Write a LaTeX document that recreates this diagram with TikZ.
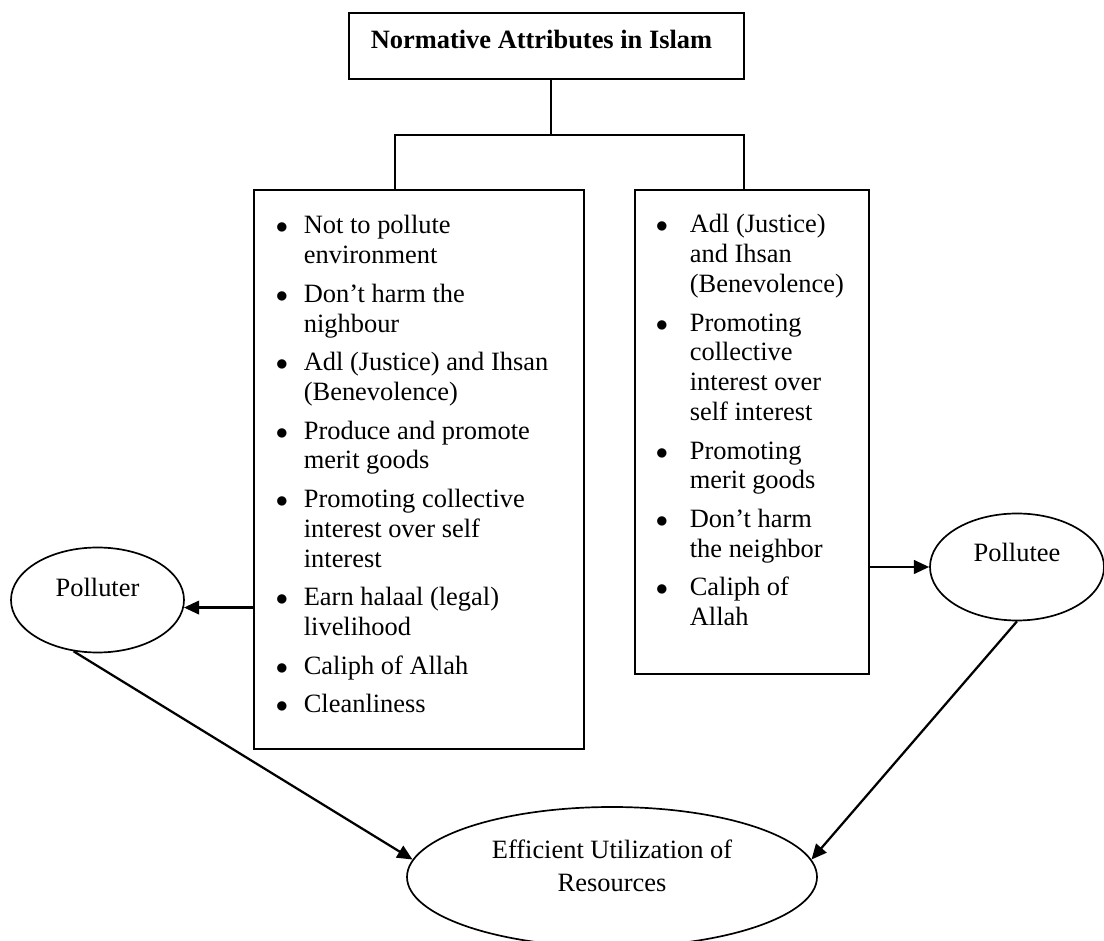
\documentclass[tikz,border=0pt]{standalone}
\usepackage{fontspec}
\setmainfont{Liberation Serif}
\usetikzlibrary{arrows.meta,shapes.geometric}
\newlength{\bltin}
\newlength{\txtin}
\newcommand{\bitem}[1]{\par\hangindent=\txtin\hangafter=1\noindent\makebox[\txtin][l]{\hspace*{\bltin}$\bullet$}\strut#1\par}
\newcommand{\uptext}[2]{\raisebox{#1}[0pt][0pt]{#2}}

\begin{document}
\begin{tikzpicture}[font=\fontsize{18.8pt}{21.2pt}\selectfont, line width=1.2pt]
	\tikzset{box/.style={draw, rectangle, inner sep=0pt}};
	\tikzset{oval/.style 2 args={draw, ellipse, inner sep=0pt, minimum width=#1, minimum height=#2}};
	\tikzset{arr/.style={-{Triangle[length=0.38cm,width=0.34cm]}, line width=1.6pt}};
	\useasboundingbox (0,0) rectangle (27.6,23.5);
	
	\node[box, minimum width=9.875cm, minimum height=1.65cm] (top) at (13.6625,22.35) {\uptext{-0.075cm}{\hspace*{-0.25cm}\textbf{Normative Attributes in Islam}}};
	
	\node[box, anchor=north west] (lbox) at (6.325,18.775) {%
		\begin{minipage}[t][13.975cm][t]{8.25cm}
			\setlength{\bltin}{0.55cm}\setlength{\txtin}{1.25cm}\setlength{\parskip}{0.22cm}
			\vspace*{0.58cm}
			\bitem{Not to pollute\\environment}
			\bitem{Don’t harm the\\nighbour}
			\bitem{Adl (Justice) and Ihsan\\(Benevolence)}
			\bitem{Produce and promote\\merit goods}
			\bitem{Promoting collective\\interest over self\\interest}
			\bitem{Earn halaal (legal)\\livelihood}
			\bitem{Caliph of Allah}
			\bitem{Cleanliness}
		\end{minipage}};
	\node[box, anchor=north west] (rbox) at (15.85,18.775) {%
		\begin{minipage}[t][12.1cm][t]{5.85cm}
			\setlength{\bltin}{0.525cm}\setlength{\txtin}{1.375cm}\setlength{\parskip}{0.22cm}
			\vspace*{0.555cm}
			\bitem{Adl (Justice)\\and Ihsan\\(Benevolence)}
			\bitem{Promoting\\collective\\interest over\\self interest}
			\bitem{Promoting\\merit goods}
			\bitem{Don’t harm\\the neighbor}
			\bitem{Caliph of\\Allah}
		\end{minipage}};
	
	\node[oval={4.325cm}{2.625cm}] (pol) at (2.4375,8.5) {\uptext{0.075cm}{Polluter}};
	\node[oval={4.35cm}{2.675cm}] (pte) at (25.425,9.325) {\uptext{0.14cm}{Pollutee}};
	\node[oval={10.25cm}{3.5cm}] (eff) at (15.3,1.575) {\uptext{0.05cm}{\begin{tabular}{@{}c@{}}Efficient Utilization of\\[0.08cm]Resources\end{tabular}}};
	
	\draw ([xshift=0.11cm]top.south) -- ++(0,-1.375) coordinate (fork);
	\draw ([xshift=-0.6cm]lbox.north) |- (fork) -| ([xshift=-0.2cm]rbox.north);
	
	\draw[arr] (lbox.west |- pol.-5) -- (pol.-5);
	\draw[arr] (rbox.east |- pte.west) -- (pte.west);
	\draw[arr] (pol.245) -- (eff.175);
	\draw[arr] (pte.south) -- (eff.5);
\end{tikzpicture}
\end{document}
